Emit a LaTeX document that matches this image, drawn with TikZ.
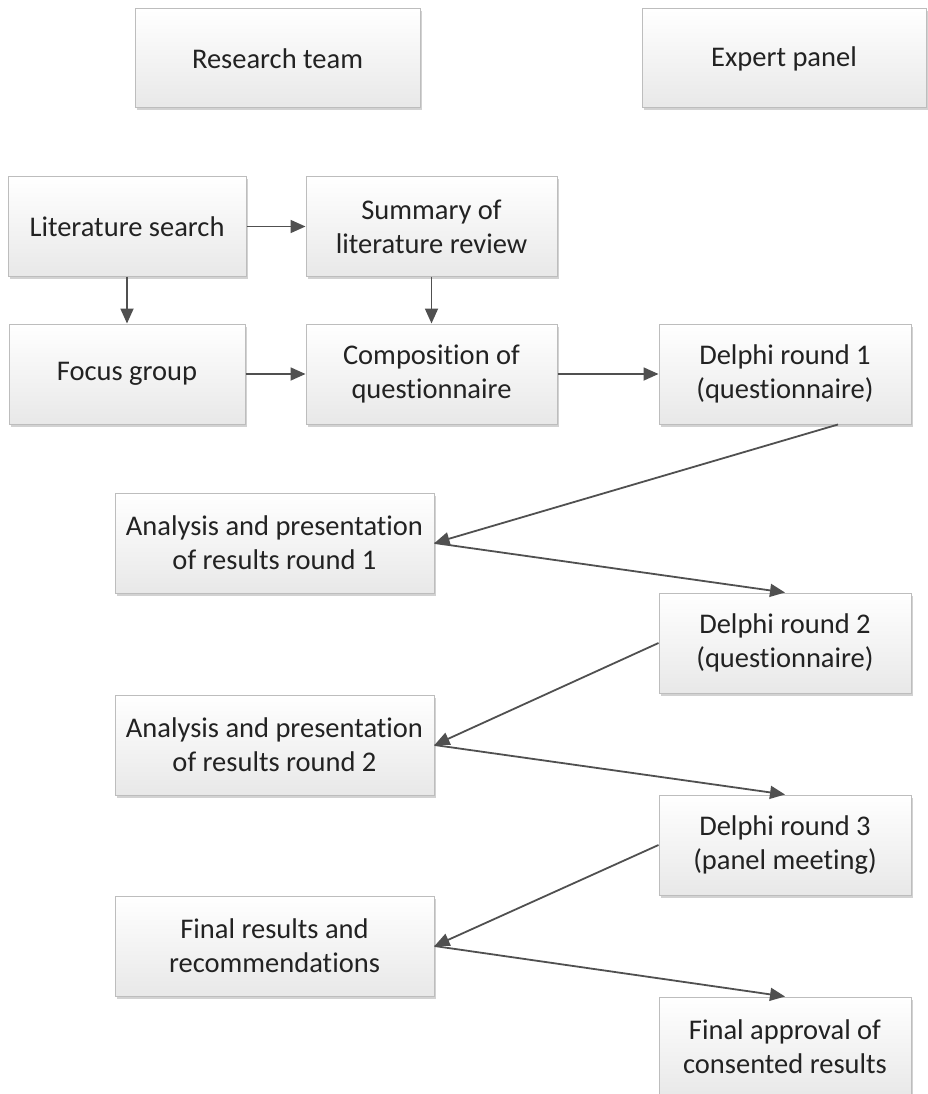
\documentclass[tikz,border=0pt]{standalone}
\usepackage{fontspec}
\setmainfont{Carlito}[RawFeature=-liga]
\usetikzlibrary{arrows.meta,shadows}
\definecolor{boxline}{HTML}{BDBDBD}
\definecolor{arrowc}{HTML}{505050}
\definecolor{txt}{HTML}{222222}
\begin{document}
\begin{tikzpicture}[x=1pt,y=-1pt,
  box/.style={rectangle, draw=boxline, line width=1pt, top color=white, bottom color=black!9,
    text=txt, align=center, inner sep=0pt,
    font=\fontsize{28.5}{34}\selectfont,
    drop shadow={shadow xshift=2pt, shadow yshift=-2.5pt, fill=black!35, opacity=0.5}},
  arr/.style={draw=arrowc, line width=1.8pt, -{Triangle[length=15pt,width=13pt]}, shorten >=0pt}]
\clip (0,0) rectangle (928,1094);
\useasboundingbox (0,0) rectangle (928,1094);
\node[box, minimum width=285pt, minimum height=99pt] (rt) at (277.5,58.5) {Research team};
\node[box, minimum width=284pt, minimum height=99pt] (ep) at (784,58.5) {Expert panel};
\node[box, minimum width=238pt, minimum height=99pt] (ls) at (127,226.5) {Literature search};
\node[box, minimum width=251pt, minimum height=99pt] (sl) at (431.5,226.5) {Summary of\\literature review};
\node[box, minimum width=236pt, minimum height=100pt] (fg) at (127,374) {Focus group};
\node[box, minimum width=251pt, minimum height=100pt] (cq) at (431.5,374) {Composition of\\questionnaire};
\node[box, minimum width=252pt, minimum height=100pt] (d1) at (785,374) {Delphi round 1\\(questionnaire)};
\node[box, minimum width=319pt, minimum height=100pt] (a1) at (274.5,543) {Analysis and presentation\\of results round 1};
\node[box, minimum width=252pt, minimum height=100pt] (d2) at (785,643) {Delphi round 2\\(questionnaire)};
\node[box, minimum width=319pt, minimum height=100pt] (a2) at (274.5,745) {Analysis and presentation\\of results round 2};
\node[box, minimum width=252pt, minimum height=100pt] (d3) at (785,845) {Delphi round 3\\(panel meeting)};
\node[box, minimum width=319pt, minimum height=100pt] (a3) at (274.5,946) {Final results and\\recommendations};
\node[box, minimum width=252pt, minimum height=100pt] (d4) at (785,1047) {Final approval of\\consented results};
\draw[arr] (ls) -- (sl);
\draw[arr] (ls) -- (fg);
\draw[arr] (sl) -- (cq);
\draw[arr] (fg) -- (cq);
\draw[arr] (cq) -- (d1);
\draw[arr] ([xshift=53pt]d1.south) -- (a1.east);
\draw[arr] (a1.east) -- (d2.north);
\draw[arr] (d2.west) -- (a2.east);
\draw[arr] (a2.east) -- (d3.north);
\draw[arr] (d3.west) -- (a3.east);
\draw[arr] (a3.east) -- (d4.north);
\end{tikzpicture}
\end{document}
